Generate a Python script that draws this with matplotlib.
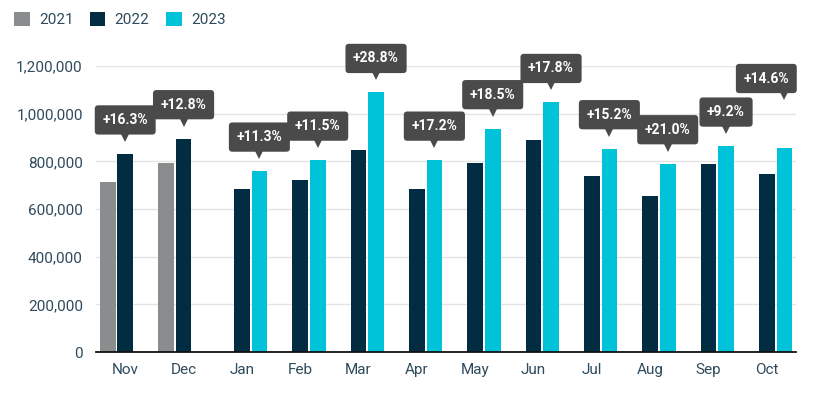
"""Monthly totals 2021-2023 with year-over-year change labels."""

import matplotlib

matplotlib.use("Agg")

import matplotlib.pyplot as plt
import matplotlib.transforms as mtransforms
from matplotlib.ticker import FuncFormatter

plt.rcParams["font.family"] = ["Roboto", "DejaVu Sans"]

MONTHS = ["Nov", "Dec", "Jan", "Feb", "Mar", "Apr", "May", "Jun", "Jul", "Aug", "Sep", "Oct"]
YEARS = ["2021", "2022", "2023"]

# None = no bar for that year in the month
VALUES_2021 = [713000, 795000, None, None, None, None, None, None, None, None, None, None]
VALUES_2022 = [831000, 895000, 685000, 721000, 847000, 685000, 795000, 889000, 738000, 653000, 790000, 748000]
VALUES_2023 = [None, None, 759000, 805000, 1089000, 805000, 937000, 1047000, 853000, 790000, 864000, 858000]

CHANGE_LABELS = ["+16.3%", "+12.8%", "+11.3%", "+11.5%", "+28.8%", "+17.2%",
                 "+18.5%", "+17.8%", "+15.2%", "+21.0%", "+9.2%", "+14.6%"]

COLORS = {"2021": "#898d8d", "2022": "#022c42", "2023": "#00c3da"}
TEXT_COLOR = "#2e4a5c"
BOX_COLOR = "#4a4a4a"


def main() -> None:
    fig = plt.figure(figsize=(8.21, 3.93), dpi=100)
    ax = fig.add_axes([0.117, 0.1043, 0.8526, 0.7277])

    series = {"2021": VALUES_2021, "2022": VALUES_2022, "2023": VALUES_2023}
    offsets = {"2021": -0.3, "2022": 0.0, "2023": 0.3}
    bar_width = 0.27

    for year in YEARS:
        xs = [i + offsets[year] for i, v in enumerate(series[year]) if v is not None]
        ys = [v for v in series[year] if v is not None]
        ax.bar(xs, ys, width=bar_width, color=COLORS[year], label=year, zorder=3)

    # change label sits over the latest year's bar; the last one is lifted
    # and nudged left so it clears its neighbour and the plot edge
    last = len(CHANGE_LABELS) - 1
    for i, label in enumerate(CHANGE_LABELS):
        if VALUES_2023[i] is not None:
            x, top = i + offsets["2023"], VALUES_2023[i]
        else:
            x, top = i + offsets["2022"], VALUES_2022[i]
        lift = 25.2 if i == last else 0.0
        nudge = -13.0 if i == last else 0.0
        ax.annotate(label, xy=(x, top), xytext=(nudge, 24.5 + lift), textcoords="offset points",
                    ha="center", va="center", color="white", fontsize=10,
                    fontweight="bold", annotation_clip=False, zorder=5,
                    bbox=dict(boxstyle="round,pad=0.55,rounding_size=0.25",
                              fc=BOX_COLOR, ec="none"))
        tri = mtransforms.offset_copy(ax.transData, fig=fig, x=0, y=12.3 + lift, units="points")
        ax.plot([x], [top], marker="v", markersize=7, color=BOX_COLOR,
                markeredgewidth=0, transform=tri, clip_on=False, zorder=5)

    ax.set_xlim(-0.5, len(MONTHS) - 0.5)
    ax.set_ylim(0, 1200000)
    ax.set_xticks(range(len(MONTHS)))
    ax.set_xticklabels(MONTHS)
    ax.set_yticks(range(0, 1200001, 200000))
    ax.yaxis.set_major_formatter(FuncFormatter(lambda v, _: f"{int(v):,}"))
    ax.tick_params(axis="both", length=0, labelsize=11, labelcolor=TEXT_COLOR)
    ax.tick_params(axis="x", pad=8)
    ax.tick_params(axis="y", pad=9.5)

    ax.grid(axis="y", color="#e4e4e4", linewidth=1, zorder=0)
    for side in ("top", "right", "left"):
        ax.spines[side].set_visible(False)
    ax.spines["bottom"].set_color("#111111")
    ax.spines["bottom"].set_linewidth(1.3)
    ax.spines["bottom"].set_zorder(4)

    fig.legend(loc="upper left", bbox_to_anchor=(0.01, 0.985), ncol=3, frameon=False,
               fontsize=11, labelcolor=TEXT_COLOR, handlelength=1.0, handleheight=1.0,
               handletextpad=0.6, columnspacing=1.1, borderaxespad=0)

    fig.savefig("out.png", dpi=100)
    plt.close(fig)


if __name__ == "__main__":
    main()
